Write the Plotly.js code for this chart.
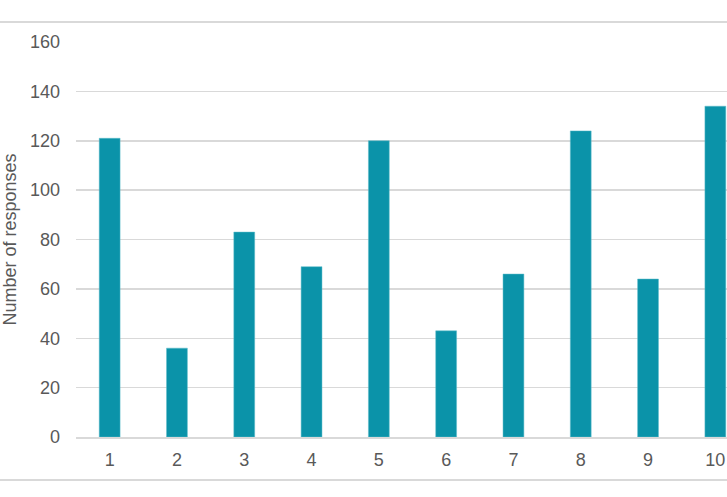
<!DOCTYPE html>
<html>
<head>
<meta charset="utf-8">
<script src="https://cdn.plot.ly/plotly-3.0.1.min.js"></script>
<style>html,body{margin:0;padding:0;background:#fff;overflow:hidden}#chart{width:727px;height:497px}</style>
</head>
<body>
<div id="chart"></div>
<script>
const categories = [1, 2, 3, 4, 5, 6, 7, 8, 9, 10];
const responses = [121, 36, 83, 69, 120, 43, 66, 124, 64, 134];
const yTicks = [0, 20, 40, 60, 80, 100, 120, 140, 160];
const yTitle = 'Number of responses';

const textColor = '#595959';
const gridColor = '#d9d9d9';
const barColor = '#0b93a9';

const L = 76, T = 42, B = 60, W = 727, H = 497;
const plotW = W - L, plotH = H - T - B;

Plotly.newPlot('chart', [{
  type: 'bar',
  x: categories,
  y: responses,
  width: 0.31,
  marker: {color: barColor, line: {color: '#5fbccb', width: 0.5}},
  hoverinfo: 'x+y'
}], {
  width: W, height: H,
  margin: {l: L, r: 0, t: T, b: B, pad: 0},
  paper_bgcolor: '#ffffff',
  plot_bgcolor: '#ffffff',
  font: {family: '"Liberation Sans", Arial, sans-serif', size: 18, color: textColor},
  showlegend: false,
  bargap: 0.69,
  xaxis: {
    range: [0.5, 0.5 + plotW / 67.3],
    tickvals: categories,
    ticktext: categories.map(String),
    showgrid: false,
    zeroline: false,
    showline: true,
    linecolor: gridColor,
    linewidth: 2,
    ticks: '',
    ticklabelstandoff: 5,
    tickfont: {size: 18, color: textColor},
    fixedrange: true
  },
  yaxis: {
    range: [0, 160],
    tickvals: yTicks,
    ticktext: yTicks.map(String),
    showgrid: true,
    gridcolor: gridColor,
    gridwidth: 1.5,
    zeroline: false,
    showline: false,
    ticks: '',
    ticklabelstandoff: 15,
    tickfont: {size: 18, color: textColor},
    title: {text: yTitle, font: {size: 18, color: textColor}, standoff: 15},
    fixedrange: true
  },
  shapes: [
    {type: 'line', xref: 'paper', yref: 'paper', x0: -L / plotW, x1: 1, y0: 1 + 20 / plotH, y1: 1 + 20 / plotH, line: {color: gridColor, width: 2}},
    {type: 'line', xref: 'paper', yref: 'paper', x0: -L / plotW, x1: 1, y0: -43 / plotH, y1: -43 / plotH, line: {color: gridColor, width: 2}}
  ]
}, {displayModeBar: false, staticPlot: true});
</script>
</body>
</html>
